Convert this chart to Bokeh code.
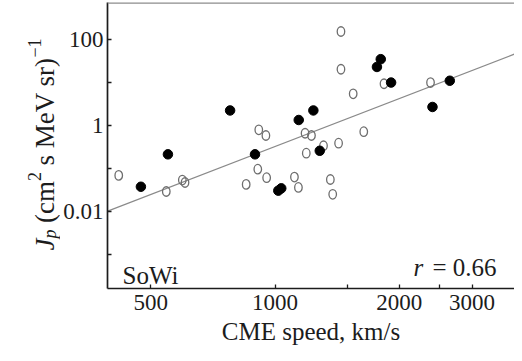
import math
from bokeh.plotting import figure
from bokeh.layouts import row
from bokeh.models import FixedTicker, CustomJSTickFormatter, Label, Span, Range1d
from bokeh.embed import file_html
from bokeh.resources import INLINE

# ---- data ----
filled_speed = [473, 550, 778, 894, 1018, 1035, 1141, 1238, 1283, 1765, 1803, 1910, 2406, 2650]
filled_flux = [0.037, 0.21, 2.2, 0.21, 0.030, 0.034, 1.32, 2.2, 0.254, 22.6, 34.3, 9.8, 2.65, 10.8]

open_speed = [418, 545, 596, 605, 851, 908, 913, 950, 954, 1114, 1139, 1182,
              1225, 1190, 1310, 1361, 1379, 1425, 1444, 1444, 1546, 1640, 1836, 2380]
open_flux = [0.068, 0.0287, 0.053, 0.0465, 0.042, 0.095, 0.78, 0.575, 0.060, 0.062, 0.0356, 0.65,
             0.575, 0.223, 0.332, 0.0546, 0.0247, 0.381, 151, 20, 5.37, 0.706, 9.2, 9.8]

fit_speed = [393, 3800]
fit_flux = [0.01, 45]

x_major = [500, 1000, 2000, 3000]
x_minor = [1500, 2500]
y_major = [0.01, 1, 100]
y_minor = [0.001, 0.1, 10]

x_title = "CME speed, km/s"
panel_name = "SoWi"
corr_text = "= 0.66"

FONT = "Liberation Serif"
INK = "#1c1c1c"
BORDER_TOP = 2
BORDER_BOTTOM = 65

# ---- main plot ----
p = figure(width=454, height=353, x_axis_type="log", y_axis_type="log",
           x_range=Range1d(392.6, 3802), y_range=Range1d(10 ** -3.798, 10 ** 2.853),
           output_backend="svg", toolbar_location=None,
           min_border_left=37, min_border_right=0,
           min_border_top=BORDER_TOP, min_border_bottom=BORDER_BOTTOM)
p.grid.visible = False
p.outline_line_color = None
p.background_fill_color = "white"
p.border_fill_color = "white"

fmt = CustomJSTickFormatter(code="return String(tick)")
for ax in (p.xaxis[0], p.yaxis[0]):
    ax.major_tick_in = 4
    ax.major_tick_out = 0
    ax.minor_tick_in = 4
    ax.minor_tick_out = 0
    ax.major_tick_line_color = INK
    ax.minor_tick_line_color = INK
    ax.major_tick_line_width = 1.3
    ax.minor_tick_line_width = 1.3
    ax.axis_line_color = INK
    ax.axis_line_width = 1.7
    ax.major_label_text_font = FONT
    ax.major_label_text_font_size = "23px"
    ax.major_label_text_color = INK
    ax.formatter = fmt

p.xaxis.ticker = FixedTicker(ticks=x_major, minor_ticks=x_minor)
p.yaxis.ticker = FixedTicker(ticks=y_major, minor_ticks=y_minor)
p.xaxis.major_label_standoff = 6
p.yaxis.major_label_standoff = 4
p.xaxis.axis_label = x_title
p.xaxis.axis_label_text_font = FONT
p.xaxis.axis_label_text_font_size = "25px"
p.xaxis.axis_label_text_font_style = "normal"
p.xaxis.axis_label_text_color = INK
p.xaxis.axis_label_standoff = 5

p.add_layout(Span(location=10 ** 2.853, dimension="width", line_color="#8c8c8c", line_width=2.5))

# regression line and points
p.line(fit_speed, fit_flux, line_color="#8a8a8a", line_width=1.2)
p.ellipse(open_speed, open_flux, width=7.5, height=9.5, width_units="screen", height_units="screen",
          fill_color=None, line_color="#6e6e6e", line_width=1.3)
p.scatter(filled_speed, filled_flux, size=9.5, fill_color="black", line_color="black")

p.add_layout(Label(x=15, y=13, x_units="screen", y_units="screen", text=panel_name,
                   text_font=FONT, text_font_size="25px", text_color=INK,
                   text_baseline="alphabetic", text_align="left"))
p.add_layout(Label(x=306, y=21, x_units="screen", y_units="screen", text="r",
                   text_font=FONT, text_font_style="italic", text_font_size="25px", text_color=INK,
                   text_baseline="alphabetic", text_align="left"))
p.add_layout(Label(x=325, y=21, x_units="screen", y_units="screen", text=corr_text,
                   text_font=FONT, text_font_size="25px", text_color=INK,
                   text_baseline="alphabetic", text_align="left"))

# ---- narrow strip holding the rotated y-axis title ----
q = figure(width=60, height=353, x_range=Range1d(0, 60), y_range=Range1d(0, 286),
           output_backend="svg", toolbar_location=None,
           min_border_left=0, min_border_right=0,
           min_border_top=BORDER_TOP, min_border_bottom=BORDER_BOTTOM)
q.axis.visible = False
q.grid.visible = False
q.outline_line_color = None
q.border_fill_color = "white"
q.background_fill_color = "white"

# pieces: text, style, font size, baseline shift (negative = toward glyph tops), gap before (px), width (em)
pieces = [
    ("J", "italic", 27, 0, 0, 0.444),
    ("p", "italic", 18, 5, 0, 0.5),
    ("(cm", "normal", 27, 0, 6.5, 1.555),
    ("2", "normal", 18, -10, 0, 0.5),
    ("s MeV sr)", "normal", 27, 0, 6.5, 3.999),
    ("\u22121", "normal", 18, -10, 0, 1.064),
]
pos = 38.0          # bottom of the title, px above the frame bottom
base_x = 44.0       # baseline position inside the strip
for txt, style, size, shift, gap, wem in pieces:
    pos += gap
    q.add_layout(Label(x=base_x + shift, y=pos, x_units="screen", y_units="screen", text=txt,
                       angle=math.pi / 2, text_font=FONT, text_font_style=style,
                       text_font_size=f"{size}px", text_color=INK,
                       text_baseline="alphabetic", text_align="left"))
    pos += wem * size

layout = row(q, p, spacing=0)
open("out.html", "w").write(file_html(layout, INLINE))
